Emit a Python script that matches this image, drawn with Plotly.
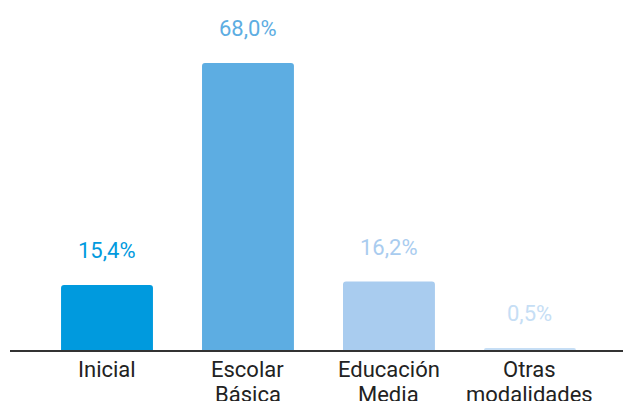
import plotly.graph_objects as go

categories = ["Inicial", "Escolar<br>Básica", "Educación<br>Media", "Otras<br>modalidades"]
values = [15.4, 68.0, 16.2, 0.5]
labels = ["15,4%", "68,0%", "16,2%", "0,5%"]
bar_colors = ["#009ADE", "#5DADE2", "#A9CCEF", "#C6DEF5"]
text_colors = ["#009ADE", "#5DADE2", "#A9CCEF", "#C6DEF5"]

x = list(range(len(categories)))

fig = go.Figure()
fig.add_trace(go.Bar(
    x=x, y=values, marker=dict(color=bar_colors, cornerradius=3, line=dict(width=0)),
    width=0.652, hoverinfo="skip",
))
for i, (v, t, c) in enumerate(zip(values, labels, text_colors)):
    fig.add_annotation(x=i, y=v, text=t, showarrow=False, yanchor="bottom",
                       yshift=20, font=dict(family="Roboto", size=22, color=c))

# category labels, one annotation per line for tighter line spacing
for i, cat in enumerate(categories):
    for j, line in enumerate(cat.split("<br>")):
        fig.add_annotation(x=i, xref="x", y=0, yref="paper", text=line, showarrow=False,
                           yanchor="middle", yshift=-19 - 25 * j,
                           font=dict(family="Roboto", size=22, color="#222222"))

fig.update_layout(
    width=623, height=401,
    margin=dict(l=10, r=0, t=0, b=51),
    plot_bgcolor="white", paper_bgcolor="white",
    showlegend=False,
    xaxis=dict(range=[-0.688, 3.66], tickmode="array", tickvals=x, ticktext=[""] * len(x),
               showline=True, linecolor="#333333", linewidth=2, showgrid=False,
               zeroline=False, ticks="", automargin=False),
    yaxis=dict(range=[0, 82.9], visible=False, showgrid=False, zeroline=False,
               automargin=False),
)
fig.write_html("out.html", post_script="document.body.style.margin='0';",
               config={"displayModeBar": False})
